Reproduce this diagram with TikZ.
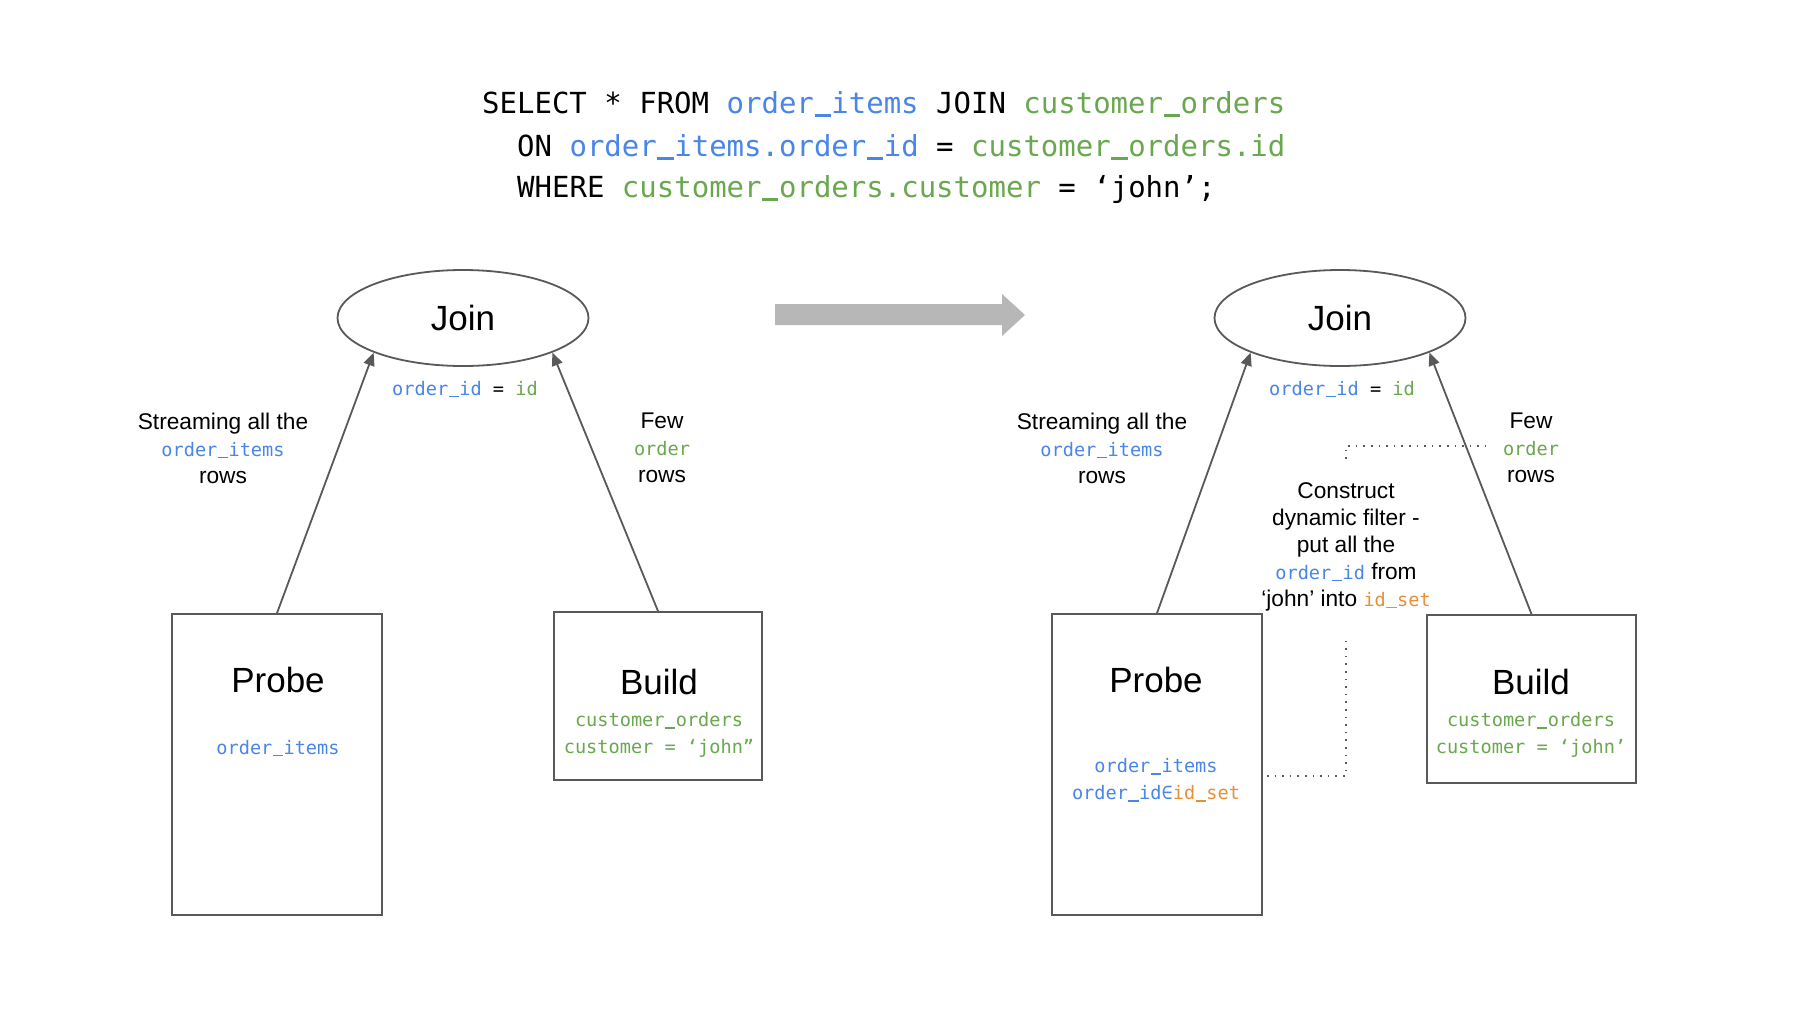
\documentclass[tikz,border=0pt]{standalone}
\usepackage{fontspec}
\setmainfont{Liberation Sans}
\setmonofont{DejaVu Sans Mono}
\usetikzlibrary{arrows.meta,shapes.geometric}
\definecolor{cblue}{HTML}{4A86E8}
\definecolor{cgreen}{HTML}{6AA84F}
\definecolor{corange}{HTML}{E69138}
\definecolor{lgray}{HTML}{595959}
\definecolor{agray}{HTML}{B7B7B7}
\newcommand{\bl}[1]{\textcolor{cblue}{#1}}
\newcommand{\gr}[1]{\textcolor{cgreen}{#1}}
\newcommand{\org}[1]{\textcolor{corange}{#1}}
\newcommand{\us}{\makebox[0.602em][c]{\rule[-0.1em]{0.56em}{0.075em}}}
\newcommand{\smtt}[1]{{\ttfamily\fontsize{18.6}{27}\selectfont #1}}
\begin{document}
\begin{tikzpicture}[x=1pt,y=-1pt,
  sql/.style={font=\fontsize{29}{35}\selectfont\ttfamily, inner sep=0pt, anchor=mid west},
  code/.style={font=\fontsize{18.6}{27}\selectfont\ttfamily, inner sep=0pt},
  lbl/.style={font=\fontsize{22.7}{27}\selectfont, align=center, inner sep=0pt},
  ttl/.style={font=\fontsize{35}{40}\selectfont, inner sep=0pt},
  joinnode/.style={ellipse, draw=lgray, line width=1.8pt, minimum width=251pt, minimum height=96pt, inner sep=0pt, font=\fontsize{35}{40}\selectfont},
  opbox/.style={draw=lgray, line width=1.8pt, rectangle, inner sep=0pt},
  flow/.style={-{Triangle[length=13pt,width=11pt]}, draw=lgray, line width=1.8pt},
  dotline/.style={draw=lgray, line width=1.6pt, dash pattern=on 1.6pt off 6pt}
]
\useasboundingbox[fill=white] (0,0) rectangle (1800,1013);

% SQL
\node[sql] (sql1) at (482,111) {SELECT * FROM \bl{order\us items} JOIN \gr{customer\us orders}};
\node[sql] (sql2) at (517,154) {ON \bl{order\us items.order\us id} = \gr{customer\us orders.id}};
\node[sql] (sql3) at (517,195) {WHERE \gr{customer\us orders.customer} = ‘john’;};

% big arrow
\fill[agray] (775,304) -- (1002,304) -- (1002,294) -- (1025,315) -- (1002,336) -- (1002,325) -- (775,325) -- cycle;

% ---------- left ----------
\node[joinnode] (joinL) at (463,318) {Join};
\node[code] (condL) at (465,389) {\bl{order\us id} = \gr{id}};
\node[opbox, minimum width=210pt, minimum height=301pt] (probeL) at (277,764.5) {};
\node[ttl] (probeLt) at (278,680) {Probe};
\node[code] (probeLc) at (278,748) {\bl{order\us items}};
\node[opbox, minimum width=208pt, minimum height=168pt] (buildL) at (658,696) {};
\node[ttl] (buildLt) at (659,682) {Build};
\node[code, align=center] (buildLc) at (659,735) {\gr{customer\us orders}\\\gr{customer = ‘john”}};
\draw[flow] (probeL.north) -- (joinL.south west);
\draw[flow] (buildL.north) -- (joinL.south east);
\node[lbl] (streamL) at (223,448) {Streaming all the\\\smtt{\bl{order\us items}}\\rows};
\node[lbl] (fewL) at (662,448) {Few\\\smtt{\gr{order}}\\rows};

% ---------- right ----------
\node[joinnode] (joinR) at (1340,318) {Join};
\node[code] (condR) at (1342,389) {\bl{order\us id} = \gr{id}};
\node[opbox, minimum width=210pt, minimum height=301pt] (probeR) at (1157,764.5) {};
\node[ttl] (probeRt) at (1156,680) {Probe};
\node[code, align=center] (probeRc) at (1156,780) {\bl{order\us items}\\\bl{order\us id∈}\org{id\us set}};
\node[opbox, minimum width=209pt, minimum height=168pt] (buildR) at (1531.5,699) {};
\node[ttl] (buildRt) at (1531,682) {Build};
\node[code, align=center] (buildRc) at (1531,735) {\gr{customer\us orders}\\\gr{customer = ‘john’}};
\draw[flow] (probeR.north) -- (joinR.south west);
\draw[flow] (buildR.north) -- (joinR.south east);
\node[lbl] (streamR) at (1102,448) {Streaming all the\\\smtt{\bl{order\us items}}\\rows};
\node[lbl] (fewR) at (1531,448) {Few\\\smtt{\gr{order}}\\rows};
\node[lbl] (construct) at (1346,547) {Construct\\dynamic filter -\\put all the\\\smtt{\bl{order\us id}} from\\‘john’ into \smtt{\org{id\us set}}};

% dotted
\coordinate (t1) at (1346,459);
\coordinate (t2) at (1346,446);
\coordinate (t3) at (1486,446);
\draw[dotline] (t1) -- (t2) -- (t3);
\coordinate (b1) at (1267,776);
\coordinate (b2) at (1346,776);
\coordinate (b3) at (1346,637);
\draw[dotline] (b1) -- (b2) -- (b3);
\end{tikzpicture}
\end{document}
